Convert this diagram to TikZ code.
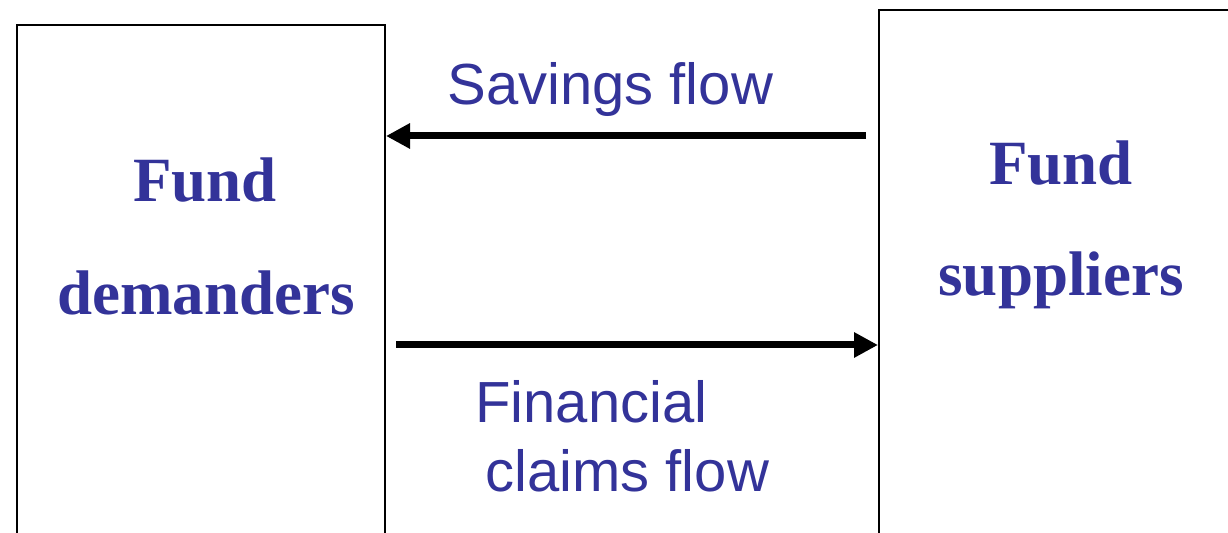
\documentclass[tikz,border=0pt]{standalone}
\usepackage{fontspec}
\setmainfont{Liberation Serif}
\setsansfont{Liberation Sans}
\usetikzlibrary{arrows.meta}
\definecolor{txtblue}{RGB}{51,51,153}
\begin{document}
\begin{tikzpicture}[x=0.5pt,y=-0.5pt,
  box/.style={draw, line width=1pt, inner sep=0pt, anchor=north west},
  party/.style={text=txtblue, font=\fontsize{31.5}{36}\selectfont\bfseries, anchor=base, inner sep=0pt},
  flowlabel/.style={text=txtblue, font=\sffamily\fontsize{29}{34.5}\selectfont, anchor=base west, inner sep=0pt},
  flow/.style={line width=3.5pt, -{Triangle[length=12pt,width=12pt]}}]
\useasboundingbox (0,0) rectangle (1228,533);
\clip (0,0) rectangle (1228,533);
% boxes (running past the lower and right edges)
\node[box, minimum width=184pt, minimum height=300pt] (dem) at (16,24) {};
\node[box, minimum width=200pt, minimum height=300pt] (sup) at (878,9) {};
% box texts
\node[party] (demF) at (205,202) {Fund};
\node[party] (demD) at (206,315) {demanders};
\node[party] (supF) at (1061,185) {Fund};
\node[party] (supS) at (1061,296) {suppliers};
% flow labels
\node[flowlabel] (sav) at (447,105) {Savings flow};
\node[flowlabel] (fin1) at (475,423) {Financial};
\node[flowlabel] (fin2) at (485,492) {claims flow};
% arrows
\coordinate (s1) at (866,136);
\coordinate (c1) at (396,345);
\draw[flow] (s1) -- (dem.east |- s1);
\draw[flow] (c1) -- (sup.west |- c1);
\end{tikzpicture}
\end{document}
